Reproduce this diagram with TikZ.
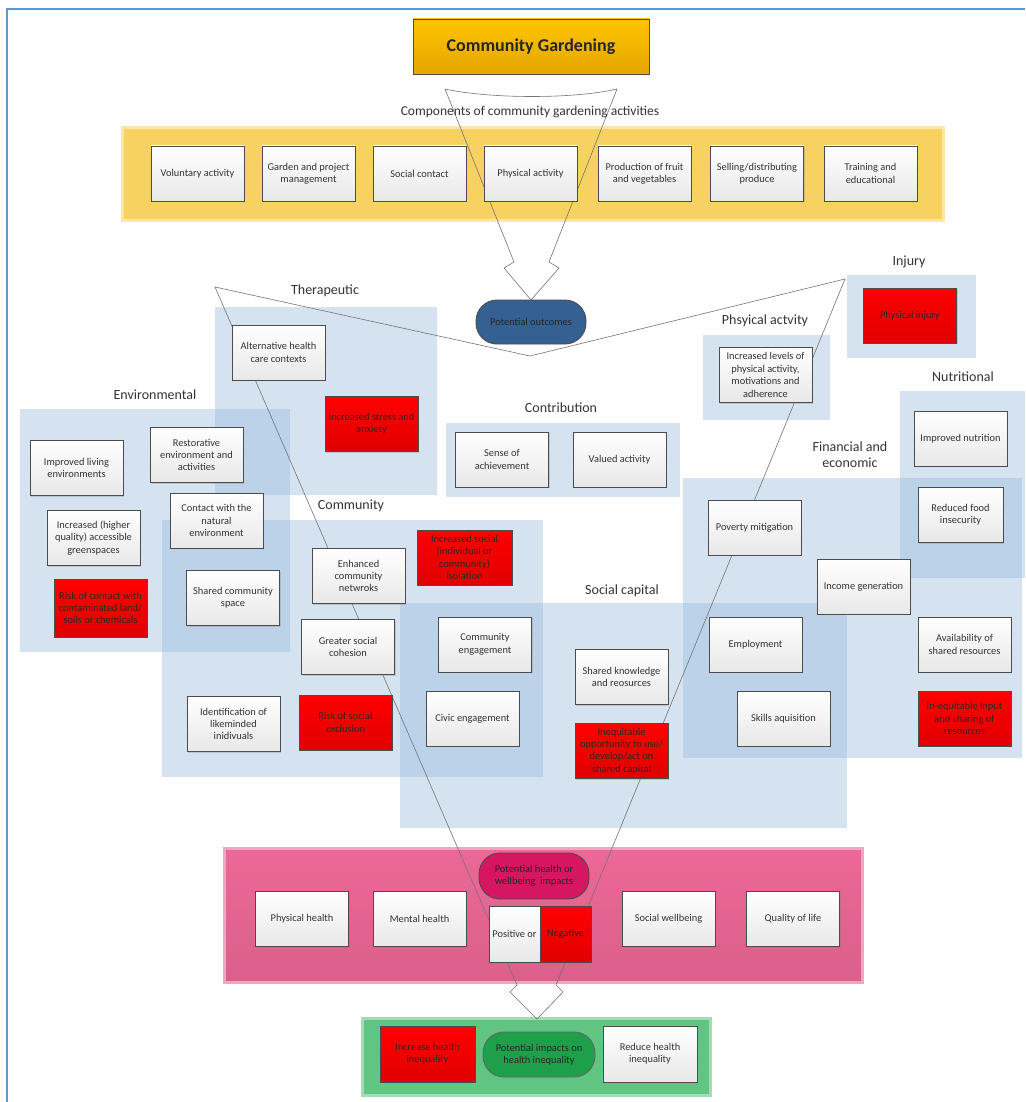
\documentclass[tikz,border=0pt]{standalone}
\usepackage{fontspec}
\setmainfont{Carlito}
\usetikzlibrary{shadows}

\definecolor{frameblue}{RGB}{91,155,213}
\definecolor{panelblue}{RGB}{150,185,220}
\definecolor{panelyellow}{RGB}{248,210,96}
\definecolor{titlegold}{RGB}{255,196,0}
\definecolor{titlegolddark}{RGB}{228,166,0}
\definecolor{outblue}{RGB}{52,96,146}
\definecolor{riskred}{RGB}{255,0,0}
\definecolor{panelpink}{RGB}{237,104,150}
\definecolor{impactpink}{RGB}{214,22,96}
\definecolor{panelgreen}{RGB}{96,196,130}
\definecolor{impactgreen}{RGB}{30,160,75}

\begin{document}
\begin{tikzpicture}[x=1pt,y=-1pt,
    box/.style={draw=black!70, line width=0.9pt, top color=white, bottom color=black!9,
      text=black!80, font=\fontsize{10.4}{12.4}\selectfont, align=center,
      minimum width=93pt, minimum height=55pt, inner sep=2pt,
      drop shadow={shadow xshift=1.2pt, shadow yshift=-1.2pt, opacity=0.3}},
    riskbox/.style={box, top color=riskred, bottom color=riskred!88!black, text=black!85},
    panel/.style={fill=panelblue, fill opacity=0.4, draw=none},
    catlabel/.style={font=\fontsize{14}{16}\selectfont, text=black!80, align=center},
    outline/.style={draw=black!55, line width=0.6pt},
    pill/.style={draw=black!70, line width=0.9pt, rounded corners=21pt,
      minimum width=110pt, minimum height=44pt, align=center,
      font=\fontsize{10.4}{12.4}\selectfont, text=black!85, inner sep=2pt}]

    \useasboundingbox (0,0) rectangle (1025,1102);

    % frame
    \draw[frameblue, line width=1.5pt] (7,1102) -- (7,9) -- (1025,9);

    % coloured bands
    \fill[panelyellow, draw=panelyellow!55!white, line width=3pt] (122,128) rectangle (943,220);
    \fill[top color=panelpink, bottom color=panelpink!92!black, draw=panelpink!60!white, line width=3pt] (224,848) rectangle (862,982);
    \fill[panelgreen, draw=panelgreen!60!white, line width=3pt] (362,1018) rectangle (710,1095);

    % outcome panels
    \fill[panel] (215,307) rectangle (437,495);
    \fill[panel] (20,409) rectangle (290,652);
    \fill[panel] (446,423) rectangle (680,497);
    \fill[panel] (162,520) rectangle (543,777);
    \fill[panel] (400,603) rectangle (847,828);
    \fill[panel] (703,335) rectangle (830,420);
    \fill[panel] (847,275) rectangle (976,358);
    \fill[panel] (900,391) rectangle (1025,578);
    \fill[panel] (683,478) rectangle (1022,758);

    % block arrows
    \draw[outline] (445,89) .. controls (490,99) and (575,99) .. (617,89)
        -- (549,262) -- (559,268) -- (531,300) -- (504,268) -- (514,262) -- cycle;
    \draw[outline] (215,287) -- (530,356) -- (845,279) -- (556,985) -- (563,992)
        -- (537,1019) -- (510,992) -- (517,985) -- cycle;

    % title and components
    \node[draw=black!70, line width=0.9pt, top color=titlegold, bottom color=titlegolddark,
      minimum width=236pt, minimum height=55pt, font=\bfseries\fontsize{18}{20}\selectfont,
      text=black!85] (title) at (531,46.5) {Community Gardening};
    \node[catlabel, font=\fontsize{13.5}{16}\selectfont] (complabel) at (530,112) {Components of community gardening activities};

    \foreach \cx/\ctext [count=\ci] in {197.5/{Voluntary activity}, 308.5/{Garden and project\\management},
        419.5/{Social contact}, 530.5/{Physical activity}, 644.5/{Production of fruit\\and vegetables},
        757/{Selling/distributing\\produce}, 870.5/{Training and\\educational}}
      \node[box] (comp\ci) at (\cx,173.5) {\ctext};

    \node[pill, fill=outblue] (outcomes) at (531,322) {Potential outcomes};

    % therapeutic
    \node[catlabel] (therlabel) at (325,291) {Therapeutic};
    \node[box] (althealth) at (278.5,352.5) {Alternative health\\care contexts};
    \node[riskbox] (stress) at (371.5,424) {Increased stress and\\anxiety};

    % contribution
    \node[catlabel] (contlabel) at (561,408) {Contribution};
    \node[box] (achieve) at (502,459.5) {Sense of\\achievement};
    \node[box] (valued) at (619.5,459.5) {Valued activity};

    % environmental
    \node[catlabel] (envlabel) at (155,395) {Environmental};
    \node[box] (living) at (76.5,468) {Improved living\\environments};
    \node[box] (restore) at (196.5,455) {Restorative\\environment and\\activities};
    \node[box] (green) at (93.5,538) {Increased (higher\\quality) accessible\\greenspaces};
    \node[box] (natural) at (216.5,520.5) {Contact with the\\natural\\environment};
    \node[riskbox, minimum height=58pt] (contam) at (100.5,608) {Risk of contact with\\contaminated land/\\soils or chemicals};
    \node[box] (sharedspace) at (233,598) {Shared community\\space};

    % community
    \node[catlabel] (commlabel) at (351,506) {Community};
    \node[box] (networks) at (358.5,576) {Enhanced\\community\\netwroks};
    \node[riskbox, minimum width=95pt] (isolation) at (464.5,557.5) {Increased social\\(individual or\\community)\\isolation};
    \node[box] (cohesion) at (348,647) {Greater social\\cohesion};
    \node[box] (engage) at (485,644.5) {Community\\engagement};
    \node[box] (likeminded) at (233.5,724) {Identification of\\likeminded\\inidivuals};
    \node[riskbox] (exclusion) at (345.5,722.5) {Risk of social\\exclusion};
    \node[box] (civic) at (472.5,718.5) {Civic engagement};

    % social capital
    \node[catlabel] (soclabel) at (622,591) {Social capital};
    \node[box] (knowledge) at (621.5,677) {Shared knowledge\\and reosurces};
    \node[riskbox] (inequity) at (621.5,751) {Inequitable\\opportunity to use/\\develop/act on\\shared capital};

    % physical activity and injury
    \node[catlabel] (physlabel) at (765,321) {Phsyical actvity};
    \node[box] (activitylevels) at (765.5,375) {Increased levels of\\physical activity,\\motivations and\\adherence};
    \node[catlabel] (injlabel) at (909,262) {Injury};
    \node[riskbox] (injury) at (910,315.5) {Physical injury};

    % nutritional
    \node[catlabel] (nutrlabel) at (963,377) {Nutritional};
    \node[box] (nutrition) at (960.5,438.5) {Improved nutrition};
    \node[box, minimum width=85pt] (foodsec) at (960.5,515) {Reduced food\\insecurity};

    % financial and economic
    \node[catlabel, align=center] (finlabel) at (850,455) {Financial and\\economic};
    \node[box] (poverty) at (754.5,527.5) {Poverty mitigation};
    \node[box] (income) at (863.5,586.5) {Income generation};
    \node[box] (employ) at (755.5,644.5) {Employment};
    \node[box] (availres) at (964.5,644.5) {Availability of\\shared resources};
    \node[box] (skills) at (783.5,718.5) {Skills aquisition};
    \node[riskbox] (inequitinput) at (964.5,718.5) {In-equitable input\\and sharing of\\resources};

    % health and wellbeing impacts
    \node[pill, fill=impactpink, minimum height=46pt] (impacts) at (534,876) {Potential health or\\wellbeing\ \ impacts};
    \node[box] (physh) at (302,919) {Physical health};
    \node[box] (mentalh) at (419.5,919) {Mental health};
    \node[box, minimum width=51pt, minimum height=56pt] (positive) at (514.5,934) {Positive or};
    \node[riskbox, minimum width=51pt, minimum height=56pt] (negative) at (565.5,934) {Negative};
    \node[box] (socialw) at (668.5,919) {Social wellbeing};
    \node[box] (quality) at (793,919) {Quality of life};

    % health inequality
    \node[riskbox, minimum width=95pt, minimum height=56pt] (increase) at (427.5,1054) {Increase health\\inequality};
    \node[pill, fill=impactgreen, draw=black!60, minimum width=112pt, minimum height=45pt] (ineqimpact) at (539,1054.5) {Potential impacts on\\health inequality};
    \node[box, minimum width=94pt, minimum height=56pt] (reduce) at (650,1054) {Reduce health\\inequality};
\end{tikzpicture}
\end{document}
